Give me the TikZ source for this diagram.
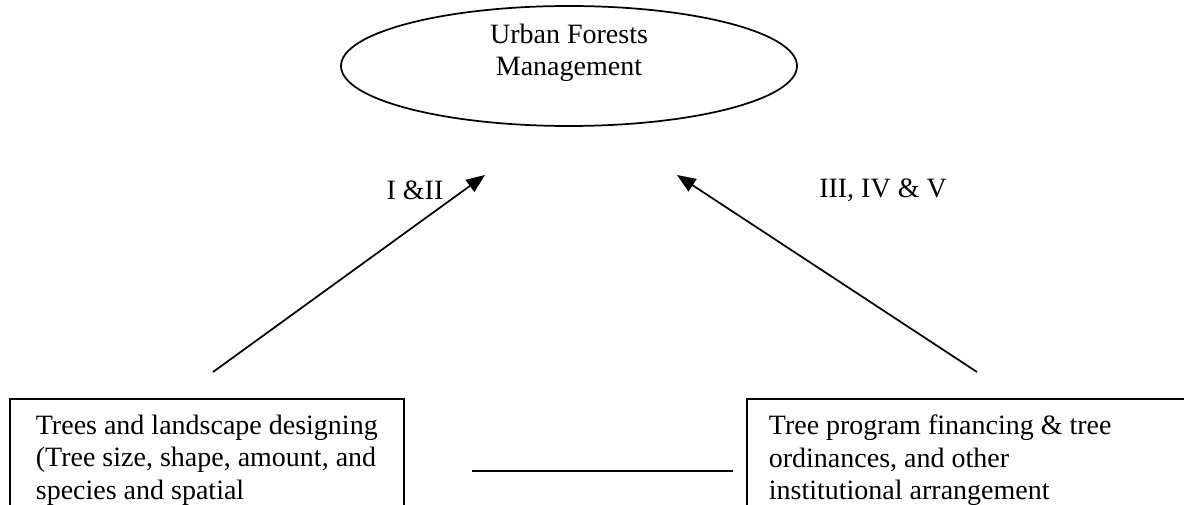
\documentclass[tikz,border=0pt]{standalone}
\usepackage{fontspec}
\setmainfont{Liberation Serif}
\usetikzlibrary{arrows.meta,calc,shapes.geometric}
\begin{document}
\begin{tikzpicture}[x=0.75pt,y=-0.75pt,
  line width=1.3pt,
  txt/.style={inner sep=0pt,font=\fontsize{21}{24.4}\selectfont,align=left,anchor=north west},
  lbl/.style={inner sep=0pt,font=\fontsize{21}{24.4}\selectfont},
  boxshape/.style={draw,rectangle,inner sep=0pt,anchor=north west},
  arr/.style={-{Triangle[length=14pt,width=11pt]}}]
\useasboundingbox (0,0) rectangle (1184,505);
\clip (0,0) rectangle (1184,505);
\node[draw,ellipse,minimum width=342pt,minimum height=90pt,inner sep=0pt] (ufm) at (569,66) {};
\node[lbl,align=center] (ufmtxt) at (569,53) {Urban Forests\\Management};
\node[boxshape,minimum width=295.5pt,minimum height=150pt] (lbox) at (9,398) {};
\node[boxshape,minimum width=375pt,minimum height=150pt] (rbox) at (746,398) {};
\node[txt] (ltxt) at (35,414) {Trees and landscape designing\\(Tree size, shape, amount, and\\species and spatial};
\node[txt] (rtxt) at (768,414) {Tree program financing \& tree\\ordinances, and other\\institutional arrangement};
\coordinate (lt) at (213,372);
\coordinate (lh) at (485,175);
\coordinate (rt) at (977,372);
\coordinate (rh) at (677,175);
\draw[arr] (lt) -- (lh);
\draw[arr] (rt) -- (rh);
\node[lbl] (l1) at (415,190) {I \&II};
\node[lbl] (l2) at (883,190) {III, IV \& V};
\draw ($(lbox.north east)+(67,73)$) -- ($(rbox.north west)+(-13,73)$);
\end{tikzpicture}
\end{document}
